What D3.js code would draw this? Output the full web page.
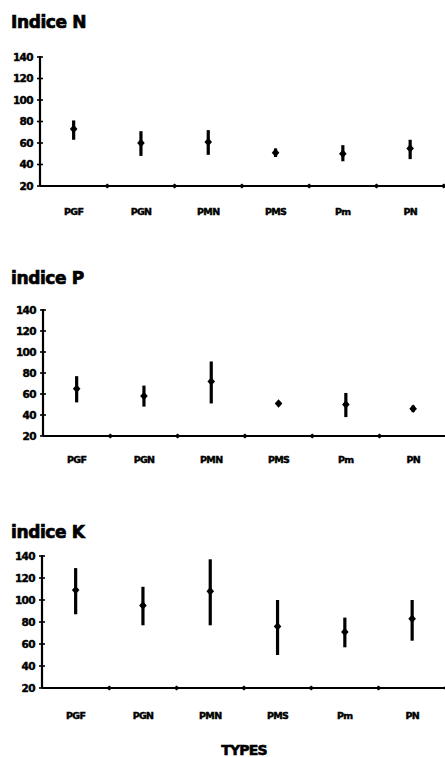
<!DOCTYPE html>
<html>
<head>
<meta charset="utf-8">
<script src="https://cdn.jsdelivr.net/npm/d3@7"></script>
<style>
  body { margin: 0; background: #fff; }
  svg { display: block; }
  text { font-family: "DejaVu Sans", "Liberation Sans", sans-serif; font-weight: bold; fill: #000; stroke: #000; stroke-width: 0.45; }
</style>
</head>
<body>
<script>
// categories and values
const categories = ["PGF", "PGN", "PMN", "PMS", "Pm", "PN"];
const yTicks = [20, 40, 60, 80, 100, 120, 140];

const nMean = [73, 60, 61, 51, 50, 55];
const nLow  = [63, 48, 49, 47, 43, 45];
const nHigh = [81, 71, 72, 55, 58, 63];

const pMean = [65, 58, 72, 51, 50, 46];
const pLow  = [52, 48, 51, 49, 38, 43];
const pHigh = [77, 68, 91, 53, 61, 49];

const kMean = [109, 95, 108, 76, 71, 83];
const kLow  = [87, 77, 77, 50, 57, 63];
const kHigh = [129, 112, 137, 100, 84, 100];

const width = 445;
const height = 757;

const svg = d3.select("body")
  .append("svg")
  .attr("width", width)
  .attr("height", height);

// panel layout (pixels)
const panels = [
  { title: "Indice N", mean: nMean, low: nLow, high: nHigh, left: 40, top: 57, bottom: 186, titleY: 28, labelY: 215 },
  { title: "indice P", mean: pMean, low: pLow, high: pHigh, left: 43, top: 310, bottom: 436, titleY: 284, labelY: 463 },
  { title: "indice K", mean: kMean, low: kLow, high: kHigh, left: 42, top: 556, bottom: 688, titleY: 538, labelY: 719 }
];

const bandW = 67.3;

panels.forEach(p => {
  const g = svg.append("g");

  const x = d3.scaleBand()
    .domain(categories)
    .range([p.left, p.left + bandW * categories.length]);

  const y = d3.scaleLinear()
    .domain([20, 140])
    .range([p.bottom, p.top]);

  // title
  g.append("text")
    .attr("x", 11)
    .attr("y", p.titleY)
    .attr("font-size", 17)
    .attr("letter-spacing", -0.4)
    .style("stroke-width", 0.7)
    .text(p.title);

  // y axis
  g.append("line")
    .attr("x1", p.left).attr("x2", p.left)
    .attr("y1", y(140) - 1).attr("y2", y(20))
    .attr("stroke", "#000").attr("stroke-width", 2.2);

  g.selectAll(".ytick")
    .data(yTicks)
    .join("line")
    .attr("x1", p.left - 3).attr("x2", p.left + 3)
    .attr("y1", d => y(d)).attr("y2", d => y(d))
    .attr("stroke", "#000").attr("stroke-width", 1.6);

  g.selectAll(".ylab")
    .data(yTicks)
    .join("text")
    .attr("x", p.left - 7)
    .attr("y", d => y(d))
    .attr("dy", "0.36em")
    .attr("text-anchor", "end")
    .attr("font-size", 10.5)
    .attr("letter-spacing", -0.6)
    .text(d => d);

  // x axis
  g.append("line")
    .attr("x1", p.left).attr("x2", width)
    .attr("y1", y(20)).attr("y2", y(20))
    .attr("stroke", "#000").attr("stroke-width", 2.2);

  g.selectAll(".xtick")
    .data(categories)
    .join("path")
    .attr("transform", d => `translate(${x(d) + x.bandwidth()},${y(20)})`)
    .attr("d", "M-3,0L0,-2.5L3,0L0,2.5Z")
    .attr("fill", "#000");

  g.selectAll(".xlab")
    .data(categories)
    .join("text")
    .attr("x", d => x(d) + x.bandwidth() / 2)
    .attr("y", p.labelY)
    .attr("text-anchor", "middle")
    .attr("font-size", 9.5)
    .attr("letter-spacing", -0.7)
    .text(d => d);

  // ranges
  g.selectAll(".range")
    .data(categories)
    .join("line")
    .attr("x1", d => x(d) + x.bandwidth() / 2)
    .attr("x2", d => x(d) + x.bandwidth() / 2)
    .attr("y1", (d, i) => y(p.low[i]))
    .attr("y2", (d, i) => y(p.high[i]))
    .attr("stroke", "#000").attr("stroke-width", 3.2);

  // means
  g.selectAll(".mean")
    .data(categories)
    .join("path")
    .attr("transform", (d, i) => `translate(${x(d) + x.bandwidth() / 2},${y(p.mean[i])})`)
    .attr("d", "M-3.8,0L0,-4.2L3.8,0L0,4.2Z")
    .attr("fill", "#000");
});

svg.append("text")
  .attr("x", 244)
  .attr("y", 755)
  .attr("text-anchor", "middle")
  .attr("font-size", 14)
  .attr("letter-spacing", -0.8)
  .style("stroke-width", 0.6)
  .text("TYPES");
</script>
</body>
</html>
